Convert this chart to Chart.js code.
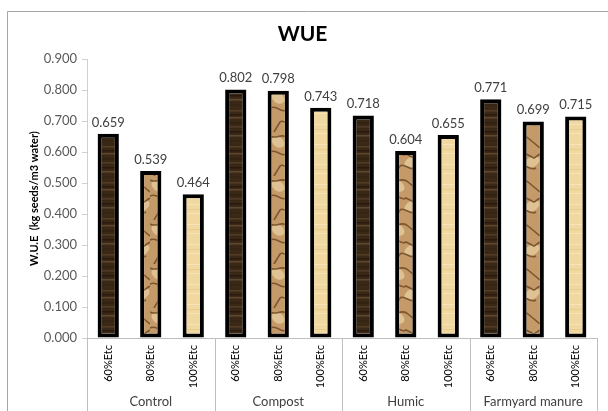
<!DOCTYPE html>
<html>
<head>
<meta charset="utf-8">
<script src="https://cdn.jsdelivr.net/npm/chart.js@4.4.1/dist/chart.umd.min.js"></script>
<style>
  html, body { margin: 0; padding: 0; background: #fff; }
  #wrap { width: 608px; height: 411px; position: relative; }
</style>
</head>
<body>
<div id="wrap"><canvas id="wueChart" width="608" height="411"></canvas></div>
<script>
// Data
const treatments = ['Control', 'Compost', 'Humic', 'Farmyard manure'];
const irrigation = ['60%Etc', '80%Etc', '100%Etc'];
const wueValues = [
    0.659, 0.539, 0.464,   // Control
    0.802, 0.798, 0.743,   // Compost
    0.718, 0.604, 0.655,   // Humic
    0.771, 0.699, 0.715    // Farmyard manure
];
const yTicks = [0, 0.1, 0.2, 0.3, 0.4, 0.5, 0.6, 0.7, 0.8, 0.9];

// Labels for each bar (irrigation level repeated per treatment)
const barLabels = treatments.flatMap(() => irrigation);

const FONT = 'Lato, "Open Sans", "DejaVu Sans", sans-serif';

// Texture patterns for the bars
function woodPattern() {
    const c = document.createElement('canvas');
    c.width = 24; c.height = 36;
    const g = c.getContext('2d');
    g.fillStyle = '#3a2816';
    g.fillRect(0, 0, 24, 36);
    const stripes = [[2, '#543c24'], [6, '#2a1b0e'], [9, '#5e452b'], [14, '#30200f'],
                     [18, '#513b25'], [23, '#28190c'], [27, '#614830'], [32, '#372513']];
    stripes.forEach(([y, col]) => {
        g.fillStyle = col;
        g.fillRect(0, y, 24, 1.5);
    });
    return g.createPattern(c, 'repeat');
}

function crumplePattern() {
    const c = document.createElement('canvas');
    c.width = 30; c.height = 44;
    const g = c.getContext('2d');
    g.fillStyle = '#c39a68';
    g.fillRect(0, 0, 30, 44);
    // light patches
    g.fillStyle = '#dfc293';
    g.beginPath();
    g.ellipse(8, 10, 7, 5, 0.6, 0, Math.PI * 2);
    g.ellipse(22, 30, 8, 5, -0.5, 0, Math.PI * 2);
    g.fill();
    // dark veins
    g.lineWidth = 1.6;
    g.strokeStyle = '#7d5530';
    g.beginPath();
    g.moveTo(0, 4); g.bezierCurveTo(6, 8, 12, 0, 18, 6);
    g.lineTo(30, 16);
    g.moveTo(0, 20); g.bezierCurveTo(8, 16, 10, 26, 16, 22);
    g.lineTo(24, 26); g.lineTo(30, 22);
    g.moveTo(4, 44); g.lineTo(10, 34); g.bezierCurveTo(14, 30, 20, 40, 26, 36);
    g.stroke();
    return g.createPattern(c, 'repeat');
}

function palePattern() {
    const c = document.createElement('canvas');
    c.width = 20; c.height = 20;
    const g = c.getContext('2d');
    g.fillStyle = '#f0d8a0';
    g.fillRect(0, 0, 20, 20);
    g.fillStyle = '#f5e4b8';
    g.fillRect(0, 4, 20, 1);
    g.fillRect(0, 13, 20, 1);
    g.fillStyle = '#e8cc8e';
    g.fillRect(0, 9, 20, 1);
    return g.createPattern(c, 'repeat');
}

const fills = [woodPattern(), crumplePattern(), palePattern()];

// Plugin: outer frame, value labels and group separators
const extras = {
    id: 'extras',
    afterDraw(chart) {
        const ctx = chart.ctx;
        const area = chart.chartArea;
        const x2 = chart.scales.x2;
        ctx.save();
        // frame round the chart
        ctx.strokeStyle = '#a6a6a6';
        ctx.lineWidth = 1;
        ctx.beginPath();
        ctx.moveTo(7.5, 411);
        ctx.lineTo(7.5, 11.5);
        ctx.lineTo(608, 11.5);
        ctx.stroke();
        // group separators below the axis
        ctx.strokeStyle = '#bfbfbf';
        for (let i = 0; i <= treatments.length; i++) {
            const px = Math.round(x2.getPixelForValue(i - 0.5)) + 0.5;
            ctx.beginPath();
            ctx.moveTo(px, area.bottom);
            ctx.lineTo(px, 411);
            ctx.stroke();
        }
        // value labels above bars
        const meta = chart.getDatasetMeta(0);
        ctx.fillStyle = '#404040';
        ctx.font = '13px ' + FONT;
        ctx.textAlign = 'center';
        ctx.textBaseline = 'bottom';
        meta.data.forEach((bar, i) => {
            ctx.fillText(wueValues[i].toFixed(3), bar.x, bar.y - 5);
        });
        ctx.restore();
    }
};

const ctx = document.getElementById('wueChart').getContext('2d');
const chart = new Chart(ctx, {
    type: 'bar',
    data: {
        labels: barLabels,
        datasets: [{
            data: wueValues,
            backgroundColor: wueValues.map((v, i) => fills[i % 3]),
            borderColor: '#000000',
            borderWidth: 4,
            borderSkipped: false,
            barPercentage: 0.5,
            categoryPercentage: 1.0
        }]
    },
    options: {
        responsive: false,
        animation: false,
        devicePixelRatio: 1,
        layout: { padding: { left: 8, right: 11, top: 12, bottom: 0 } },
        plugins: {
            legend: { display: false },
            tooltip: { enabled: false },
            title: {
                display: true,
                text: 'WUE',
                color: '#000000',
                font: { family: FONT, size: 21, weight: 'bold' },
                padding: { top: 10, bottom: 12 }
            }
        },
        scales: {
            y: {
                min: 0,
                max: 0.9,
                afterBuildTicks: (scale) => { scale.ticks = yTicks.map(v => ({ value: v })); },
                afterFit: (scale) => { scale.width = 79; },
                ticks: {
                    callback: (v) => Number(v).toFixed(3),
                    color: '#595959',
                    font: { family: FONT, size: 13 },
                    padding: 5
                },
                grid: { drawOnChartArea: false, tickLength: 5, color: '#d0d0d0' },
                border: { color: '#d0d0d0' },
                title: {
                    display: true,
                    text: 'W.U.E  (kg seeds/m3 water)',
                    color: '#000000',
                    font: { family: FONT, size: 11, weight: 'bold' },
                    padding: { top: 20, bottom: 0 }
                }
            },
            x: {
                offset: true,
                afterFit: (scale) => { scale.height = 56; },
                ticks: {
                    minRotation: 90,
                    maxRotation: 90,
                    autoSkip: false,
                    color: '#000000',
                    font: { family: FONT, size: 11 },
                    padding: 7
                },
                grid: { display: false, drawTicks: false },
                border: { display: true, color: '#bfbfbf' }
            },
            x2: {
                type: 'category',
                position: 'bottom',
                labels: treatments,
                offset: true,
                afterFit: (scale) => { scale.height = 17; },
                ticks: {
                    color: '#404040',
                    font: { family: FONT, size: 13 },
                    padding: 0
                },
                grid: { display: false, drawTicks: false },
                border: { display: false }
            }
        }
    },
    plugins: [extras]
});
</script>
</body>
</html>
